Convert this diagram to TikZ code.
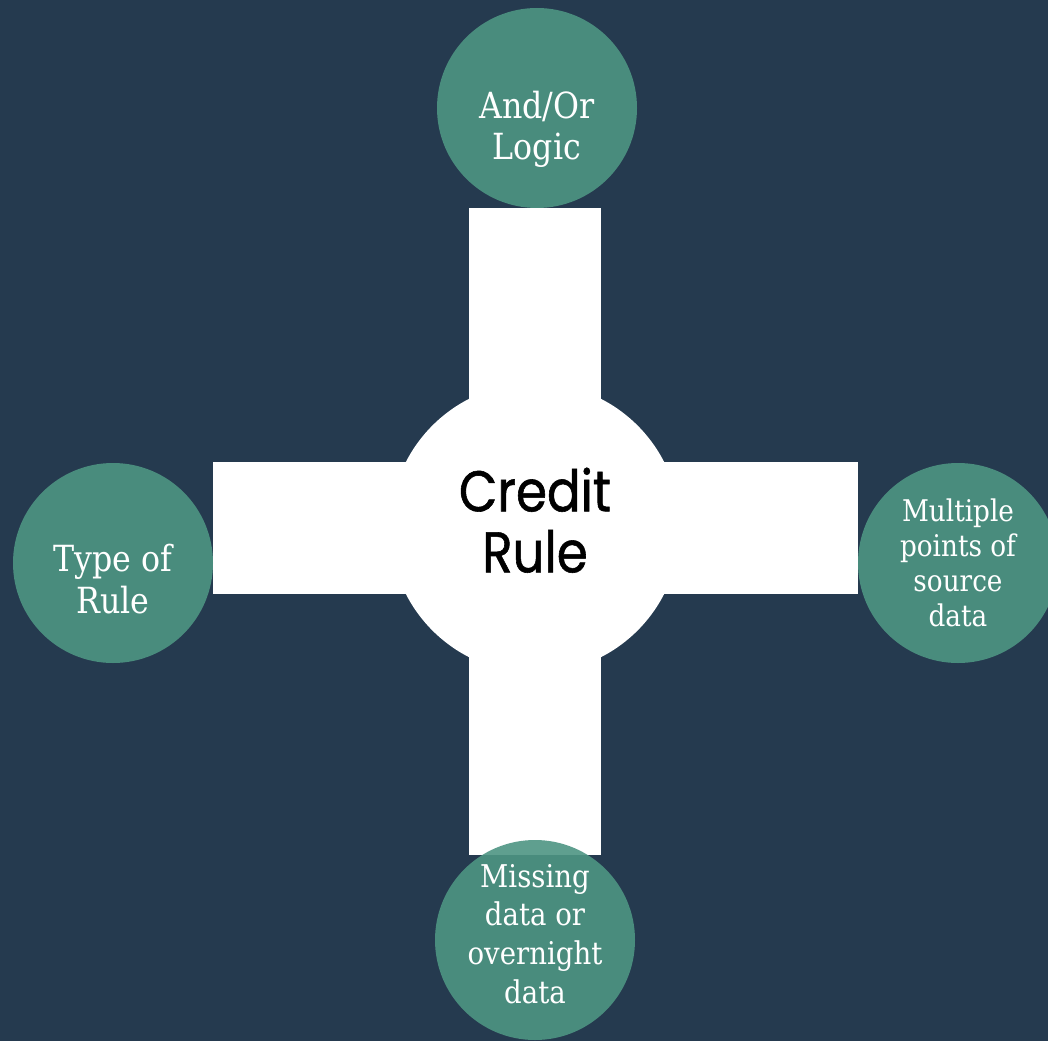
\documentclass[tikz,border=0pt]{standalone}
\usepackage{fontspec}
\setmainfont{DejaVu Serif}[FakeStretch=0.88]
\newfontfamily\hubfont{Poppins}[FakeStretch=0.87, FakeBold=1]
\usetikzlibrary{positioning}

\definecolor{navy}{HTML}{253A4F}
\definecolor{leaf}{HTML}{4E9583}

\pgfdeclarelayer{back}
\pgfdeclarelayer{bars}
\pgfsetlayers{back,bars,main}

\begin{document}
\begin{tikzpicture}[
  x=0.75pt, y=-0.75pt,
  spoke/.style={circle, fill=leaf, fill opacity=0.9, text opacity=1,
                text=white, minimum size=150pt, inner sep=0pt, align=center,
                font=\fontsize{27}{31.5}\selectfont},
  small/.style={font=\fontsize{22.4}{26.25}\selectfont},
  drop/.style={text height=#1},
  hub/.style={circle, fill=white, minimum size=217.5pt, inner sep=0pt,
              align=center, text depth=12pt,
              font=\hubfont\fontsize{43}{45.75}\selectfont},
  bar/.style={draw=white, line width=99pt},
]
  \useasboundingbox (0,0) rectangle (1048,1041);
  \clip (0,0) rectangle (1048,1041);
  \begin{pgfonlayer}{back}
    \fill[navy] (0,0) rectangle (1048,1041);
  \end{pgfonlayer}

  \node[hub] (hub) at (535,528) {Credit\\Rule};
  \node[spoke, drop=84pt] (logic) at (537,108) {And/Or\\Logic};
  \node[spoke, drop=76pt] (type) at (113,563) {Type of\\Rule};
  \node[spoke, small] (source) at (958,563) {Multiple\\points of\\source\\data};
  \node[spoke, drop=95pt, font=\fontsize{23.5}{29}\selectfont] (missing)
    at (535,940) {Missing\\data or\\overnight\\data};

  % the cross behind the circles
  \begin{pgfonlayer}{bars}
    \draw[bar] (hub.center) -- (hub.center |- logic.south);
    \draw[bar, shorten >=-11.25pt] (hub.center) -- (hub.center |- missing.north);
    \draw[bar] (hub.center) -- (hub.center -| type.east);
    \draw[bar] (hub.center) -- (hub.center -| source.west);
  \end{pgfonlayer}
\end{tikzpicture}
\end{document}
